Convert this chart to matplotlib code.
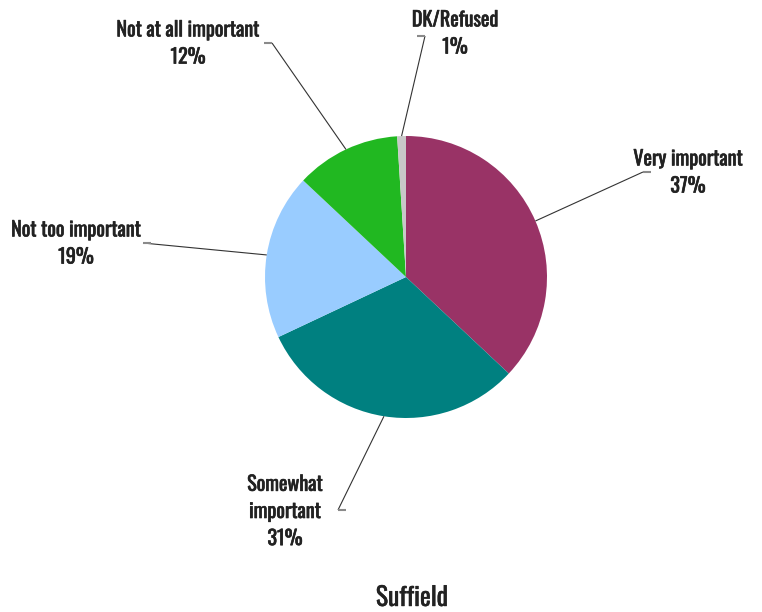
import numpy as np
import matplotlib.pyplot as plt
import matplotlib.patheffects as pe
from matplotlib import font_manager

labels = ["Very important", "Somewhat\nimportant", "Not too important",
          "Not at all important", "DK/Refused"]
values = [37, 31, 19, 12, 1]
colors = ["#993366", "#008080", "#99ccff", "#21b821", "#c8c8c8"]
title = "Suffield"

# narrow face for the labels, first one found wins
names = {f.name for f in font_manager.fontManager.ttflist}
family = "DejaVu Sans"
for cand in ["Oswald", "Barlow Condensed", "Archivo Narrow"]:
    if cand in names:
        family = cand
        break

W, H = 762, 612
fig = plt.figure(figsize=(W / 100, H / 100), dpi=100)
ax = fig.add_axes([0, 0, 1, 1])

cx, cy, r = 406, H - 277, 141
wedges, _ = ax.pie(values, colors=colors, startangle=90, counterclock=False,
                   center=(cx, cy), radius=r, frame=True,
                   wedgeprops=dict(linewidth=0))
ax.set_xlim(0, W)
ax.set_ylim(0, H)
ax.set_aspect("auto")
ax.axis("off")

# where each leader starts, and where its text block is centred
anchors = [(643, 172), (338, 510), (143, 243), (272, 43), (425, 36)]
tick_dir = [1, 1, 1, -1, -1]
text_pos = [(688, 172), (285, 511), (76, 243), (188, 43), (455, 33)]

tc = "#222222"
fs = 14.5
heavy = [pe.withStroke(linewidth=0.45, foreground=tc)]
for w, lab, v, (axx, ayy), d, (tx, ty) in zip(wedges, labels, values, anchors, tick_dir, text_pos):
    mid = np.deg2rad((w.theta1 + w.theta2) / 2)
    ex, ey = cx + r * np.cos(mid), cy + r * np.sin(mid)
    ay = H - ayy
    ax.plot([ex, axx], [ey, ay], color="#333333", lw=0.8, solid_capstyle="butt")
    ax.plot([axx, axx + d * 8], [ay, ay], color="#8a8a8a", lw=1.5, solid_capstyle="butt")
    ax.text(tx, H - ty, f"{lab}\n{v}%", ha="center", va="center", color=tc,
            fontsize=fs, family=family, linespacing=1.42, path_effects=heavy)

ax.text(412, H - 598, title, ha="center", va="center", color=tc,
        fontsize=18.5, family=family,
        path_effects=[pe.withStroke(linewidth=0.3, foreground=tc)])

fig.savefig("out.png", dpi=100)
